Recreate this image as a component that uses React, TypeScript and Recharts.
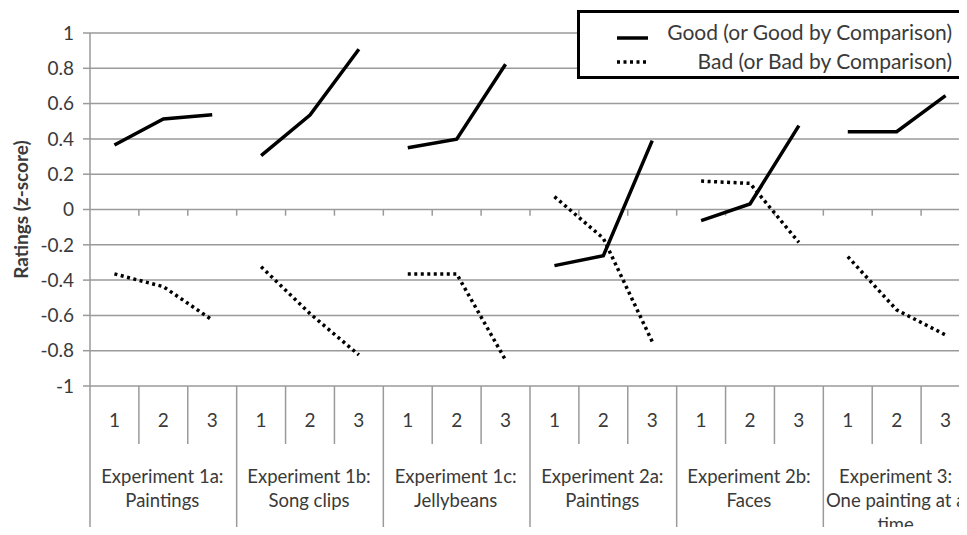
import React from "react";
import { LineChart, Line, XAxis, YAxis, CartesianGrid, ReferenceLine, Legend } from "recharts";

const categoryNumbers = ["1", "2", "3"];
const groupLabels = [
  ["Experiment 1a:", "Paintings"],
  ["Experiment 1b:", "Song clips"],
  ["Experiment 1c:", "Jellybeans"],
  ["Experiment 2a:", "Paintings"],
  ["Experiment 2b:", "Faces"],
  ["Experiment 3:", "One painting at a", "time"],
];
const good = [0.365, 0.513, 0.537, 0.305, 0.535, 0.908, 0.35, 0.398, 0.823, -0.318, -0.262, 0.39, -0.063, 0.031, 0.475, 0.441, 0.441, 0.645];
const bad = [-0.365, -0.437, -0.626, -0.324, -0.59, -0.824, -0.365, -0.365, -0.853, 0.073, -0.163, -0.749, 0.161, 0.148, -0.186, -0.267, -0.569, -0.711];
const yTicks = [-1, -0.8, -0.6, -0.4, -0.2, 0, 0.2, 0.4, 0.6, 0.8, 1];
const seriesNames = ["Good (or Good by Comparison)", "Bad (or Bad by Comparison)"];

const nCats = groupLabels.length * categoryNumbers.length;
const data: any[] = [];
groupLabels.forEach((_, g) => {
  categoryNumbers.forEach((__, k) => {
    const i = g * 3 + k;
    data.push({ x: i + 0.5, good: good[i], bad: bad[i] });
  });
  if (g < groupLabels.length - 1) data.push({ x: g * 3 + 3, good: null, bad: null });
});
const xTicks: number[] = [];
for (let i = 0; i <= nCats * 2; i++) xTicks.push(i / 2);
const boundaries: number[] = [];
for (let i = 1; i < nCats; i++) boundaries.push(i);

const FONT = "Lato, 'Open Sans', sans-serif";
const TEXT = "#3a3a3a";
const GRID = "#9a9a9a";
const CAT_FS = 19;
const GROUP_FS = 18.5;

const CatTick = (props: any) => {
  const { x, y, payload } = props;
  const v = payload.value as number;
  if (Number.isInteger(v)) {
    const long = v % 3 === 0;
    return <line x1={x} x2={x} y1={y} y2={y + (long ? 170 : 58)} stroke={GRID} strokeWidth={1.5} />;
  }
  const idx = Math.floor(v);
  const pos = idx % 3;
  const lines = pos === 1 ? groupLabels[Math.floor(idx / 3)] : [];
  return (
    <g>
      <text x={x} y={y + 34} dy="0.35em" textAnchor="middle" fontFamily={FONT} fontSize={CAT_FS} fill={TEXT}>
        {categoryNumbers[pos]}
      </text>
      {lines.map((t, j) => (
        <text key={j} x={x - 1} y={y + 91 + j * 24} dy="0.35em" textAnchor="middle" fontFamily={FONT} fontSize={GROUP_FS} fill={TEXT}>
          {t}
        </text>
      ))}
    </g>
  );
};

const LegendBox = () => (
  <div
    style={{
      position: "relative",
      width: 400,
      height: 69,
      boxSizing: "border-box",
      border: "3px solid #000",
      background: "#fff",
      fontFamily: FONT,
      fontSize: 21,
      color: TEXT,
    }}
  >
    <svg style={{ position: "absolute", left: 37, top: 0 }} width={34} height={66}>
      <line x1={0} x2={31} y1={25} y2={25} stroke="#000" strokeWidth={3.5} />
      <line x1={0} x2={31} y1={49} y2={49} stroke="#000" strokeWidth={3.5} strokeDasharray="3 3.5" />
    </svg>
    <div style={{ position: "absolute", right: 22, top: 7, lineHeight: "24px", whiteSpace: "nowrap" }}>{seriesNames[0]}</div>
    <div style={{ position: "absolute", right: 22, top: 36, lineHeight: "24px", whiteSpace: "nowrap" }}>{seriesNames[1]}</div>
  </div>
);

export default function App() {
  return (
    <div style={{ margin: -8, width: 967, height: 535, overflow: "hidden", position: "relative", background: "#fff" }}>
      <LineChart width={980} height={535} data={data} margin={{ top: 33, right: 10, left: 30, bottom: 0 }}>
        <CartesianGrid vertical={false} stroke={GRID} strokeWidth={1.5} />
        <XAxis
          type="number"
          dataKey="x"
          domain={[0, nCats]}
          ticks={xTicks}
          interval={0}
          tick={<CatTick />}
          tickLine={false}
          axisLine={false}
          tickSize={0}
          tickMargin={0}
          height={149}
        />
        <YAxis
          domain={[-1, 1]}
          ticks={yTicks}
          interval={0}
          width={60}
          tickSize={7}
          tickMargin={9}
          axisLine={{ stroke: GRID, strokeWidth: 1.5 }}
          tickLine={{ stroke: GRID, strokeWidth: 1.5 }}
          tick={{ fontFamily: FONT, fontSize: 19, fill: TEXT }}
          label={{
            value: "Ratings (z-score)",
            angle: -90,
            position: "insideLeft",
            offset: -9,
            style: { fontFamily: FONT, fontSize: 19, fontWeight: 700, fill: TEXT, textAnchor: "middle" },
          }}
        />
        {boundaries.map((b) => (
          <ReferenceLine key={b} segment={[{ x: b, y: 0 }, { x: b, y: -0.035 }]} stroke={GRID} strokeWidth={1.5} />
        ))}
        <Line dataKey="good" name={seriesNames[0]} stroke="#000" strokeWidth={3.5} dot={false} isAnimationActive={false} connectNulls={false} />
        <Line dataKey="bad" name={seriesNames[1]} stroke="#000" strokeWidth={3.5} strokeDasharray="3 3.5" dot={false} isAnimationActive={false} connectNulls={false} />
        <Legend
          layout="vertical"
          align="center"
          verticalAlign="middle"
          content={<LegendBox />}
          wrapperStyle={{ position: "absolute", left: 577, top: 10, width: 400 }}
        />
      </LineChart>
    </div>
  );
}
